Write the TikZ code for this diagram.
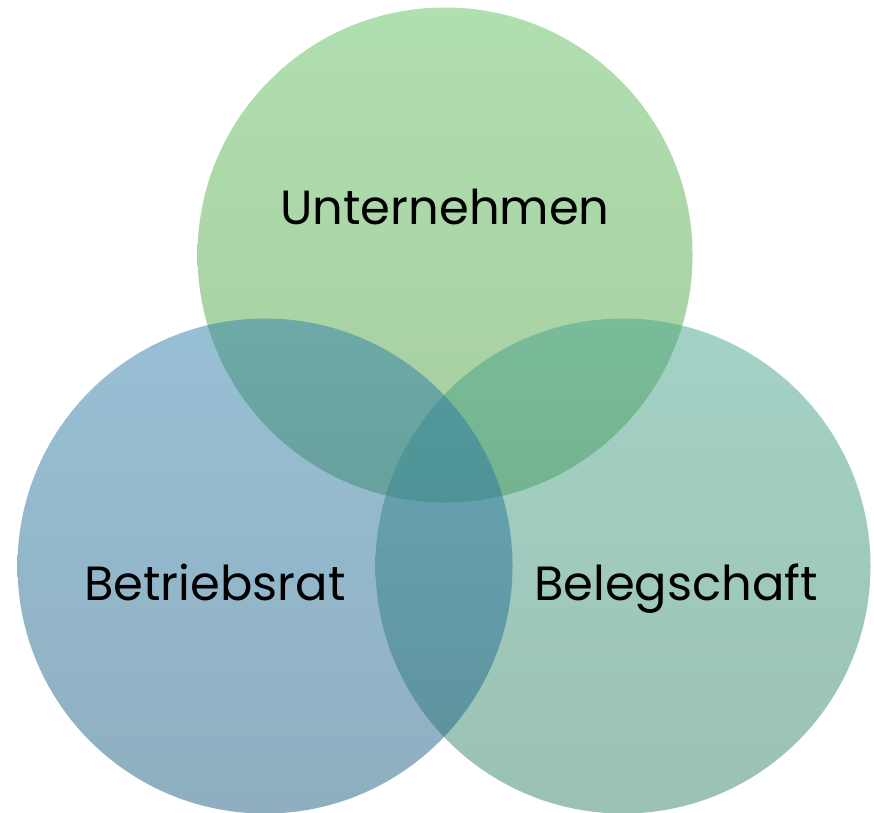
\documentclass[tikz,border=0pt]{standalone}
\usepackage{fontspec}
\setmainfont{Poppins}
\definecolor{greentop}{RGB}{97,191,97}
\definecolor{greenbot}{RGB}{79,155,65}
\definecolor{bluetop}{RGB}{49,129,171}
\definecolor{bluebot}{RGB}{31,95,129}
\definecolor{tealtop}{RGB}{73,165,141}
\definecolor{tealbot}{RGB}{55,133,105}
\tikzset{
  venncircle/.style={circle,minimum size=495pt,inner sep=0pt,fill opacity=0.5},
  vennlabel/.style={font=\fontsize{48}{52}\selectfont,text=black,inner sep=0pt,anchor=base}
}
\begin{document}
\begin{tikzpicture}[x=1pt,y=-1pt]
                \useasboundingbox (0,0) rectangle (874,812); % picture size
                \node[venncircle,top color=greentop,bottom color=greenbot] (unternehmen) at (445,255) {};
                \node[venncircle,top color=tealtop,bottom color=tealbot] (belegschaft) at (623,566) {};
                \node[venncircle,top color=bluetop,bottom color=bluebot] (betriebsrat) at (265,566) {};
                % labels
                \node[vennlabel] (lblunternehmen) at (445,224) {Unternehmen};
                \node[vennlabel] (lblbetriebsrat) at (215,600) {Betriebsrat};
                \node[vennlabel] (lblbelegschaft) at (676,600) {Belegschaft};
\end{tikzpicture}
\end{document}
